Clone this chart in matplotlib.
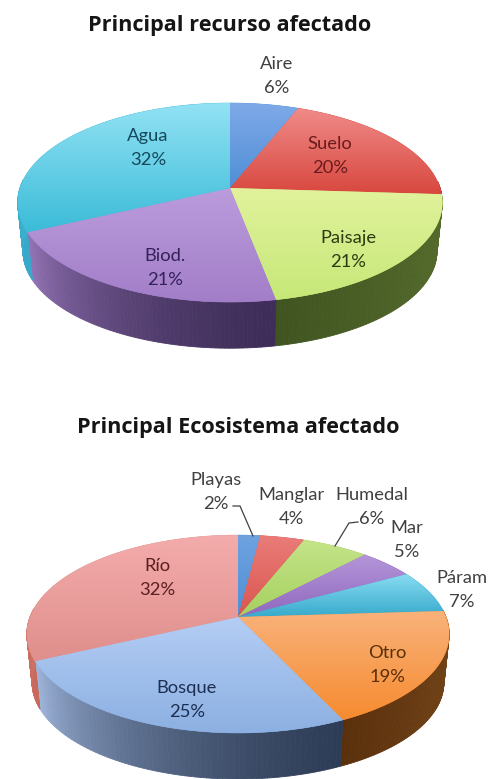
import numpy as np
import matplotlib
matplotlib.use("Agg")
import matplotlib.pyplot as plt
from matplotlib.colors import LinearSegmentedColormap, to_rgb
from matplotlib.patches import Polygon

plt.rcParams['font.family'] = ['Lato', 'DejaVu Sans']

# primer grafico
recurso_names = ["Aire", "Suelo", "Paisaje", "Biod.", "Agua"]
recurso_vals = [6, 20, 21, 21, 32]
recurso_top = [("#7fa9e8", "#4f8fd6"), ("#f08a88", "#d8483f"), ("#e2f29c", "#c6e878"),
               ("#bb9cdc", "#a27ec8"), ("#93e2f4", "#3bbcd8")]
recurso_side = [("#3f6ea8", "#3f6ea8"), ("#a83a36", "#a83a36"), ("#566c2c", "#3f5420"),
                ("#3e2d58", "#9474b6"), ("#3aa8c8", "#3bb0d0")]
recurso_txt = ["#404040", "#6a1c1c", "#2c3c10", "#33215a", "#14485c"]
recurso_pos = [(277, 76), (330, 156), (348, 250), (165, 268), (148, 148)]

# segundo grafico
eco_names = ["Playas", "Manglar", "Humedal", "Mar", "Páram", "Otro", "Bosque", "Río"]
eco_vals = [2, 4, 6, 5, 7, 19, 25, 32]
eco_top = [("#6fa3e0", "#4f8ed6"), ("#ea7c78", "#d95650"), ("#c4e488", "#a6d060"),
           ("#b596d8", "#8f68c0"), ("#88dcf2", "#38aacb"), ("#f9b27a", "#f68b30"),
           ("#b4cdf4", "#8cb0e2"), ("#f4acac", "#df8f8c")]
eco_side = [("#3f6ea8", "#3f6ea8"), ("#a83a36", "#a83a36"), ("#6a8a30", "#6a8a30"),
            ("#5c4478", "#5c4478"), ("#2f8aa8", "#2f8aa8"), ("#76461a", "#5a300c"),
            ("#2e3d57", "#9fb6dc"), ("#c8695c", "#cf7468")]
eco_txt = ["#404040", "#404040", "#404040", "#404040", "#404040", "#5a3008", "#1c2f52", "#5a1f1f"]
eco_pos = [(216, 492), (291, 507), (372, 507), (407, 540), (462, 590), (387, 665), (187, 700), (157, 578)]


def project(theta, cx, cy, s, c, k, shrink=1.0, drop=0.0):
    # disco unitario -> perspectiva, theta en sentido horario desde arriba
    x = np.sin(theta)
    y = np.cos(theta)
    w = 1 + k * y
    return cx + shrink * s * x / w, cy - shrink * c * y / w + drop


def draw_pie(ax, vals, top_cols, side_cols, cx, cy, s, c, k):
    vals = np.array(vals, dtype=float)
    edges = np.radians(np.concatenate([[0], np.cumsum(vals)]) / vals.sum() * 360)

    # canto del cilindro
    lo, hi = np.radians(86), np.radians(275)
    for i in range(len(vals)):
        a, b = max(edges[i], lo), min(edges[i + 1], hi)
        if b <= a:
            continue
        ts = np.linspace(a, b, 70)
        c0, c1 = np.array(to_rgb(side_cols[i][0])), np.array(to_rgb(side_cols[i][1]))
        for j in range(len(ts) - 1):
            f = ((j + 0.5) / (len(ts) - 1)) ** 1.5
            col = c0 + (c1 - c0) * f
            x1, y1 = project(ts[j:j + 2], cx, cy, s, c, k)
            x2, y2 = project(ts[j:j + 2], cx, cy, s, c, k, 0.975, 49)
            ax.fill([x1[0], x1[1], x2[1], x2[0]], [y1[0], y1[1], y2[1], y2[0]],
                    color=col, lw=0.6, zorder=2)

    # cara superior
    for i in range(len(vals)):
        ts = np.linspace(edges[i], edges[i + 1], 80)
        xr, yr = project(ts, cx, cy, s, c, k)
        xs = np.concatenate([[cx], xr])
        ys = np.concatenate([[cy], yr])
        poly = Polygon(np.c_[xs, ys], closed=True, fc=top_cols[i][1], ec=top_cols[i][1], lw=0.4, zorder=3)
        ax.add_patch(poly)
        cmap = LinearSegmentedColormap.from_list("g", top_cols[i])
        im = ax.imshow(np.linspace(0, 1, 128)[:, None], cmap=cmap, aspect="auto", zorder=4,
                       extent=(xs.min(), xs.max(), ys.max(), ys.min()), interpolation="bilinear")
        im.set_clip_path(poly)


def draw_labels(ax, names, vals, positions, colors):
    # nombre y porcentaje por separado
    for name, val, pos, col in zip(names, vals, positions, colors):
        ax.text(pos[0], pos[1] - 11.8, name, ha="center", va="center", fontsize=13.2, color=col, zorder=6)
        ax.text(pos[0], pos[1] + 11.8, f"{val}%", ha="center", va="center", fontsize=13.2, color=col, zorder=6)


fig = plt.figure(figsize=(4.88, 7.79), dpi=100)
ax = fig.add_axes([0, 0, 1, 1])

draw_pie(ax, recurso_vals, recurso_top, recurso_side, 230, 188, 210, 97.4, 0.146)
draw_pie(ax, eco_vals, eco_top, eco_side, 238, 617, 208, 96, 0.172)

ax.set_xlim(0, 488)
ax.set_ylim(779, 0)
ax.axis("off")

ax.text(230, 25, "Principal recurso afectado", ha="center", va="center",
        fontsize=15.6, fontweight="bold", family="Open Sans", color="#151515", zorder=6)
ax.text(238, 427, "Principal Ecosistema afectado", ha="center", va="center",
        fontsize=15.6, fontweight="bold", family="Open Sans", color="#151515", zorder=6)

draw_labels(ax, recurso_names, recurso_vals, recurso_pos, recurso_txt)
draw_labels(ax, eco_names, eco_vals, eco_pos, eco_txt)

# lineas guia
ax.plot([233, 240, 253], [506, 506, 536], color="#404040", lw=0.9, zorder=5)
ax.plot([358, 349, 335], [522, 523, 546], color="#404040", lw=0.9, zorder=5)

fig.savefig("out.png", dpi=100)
